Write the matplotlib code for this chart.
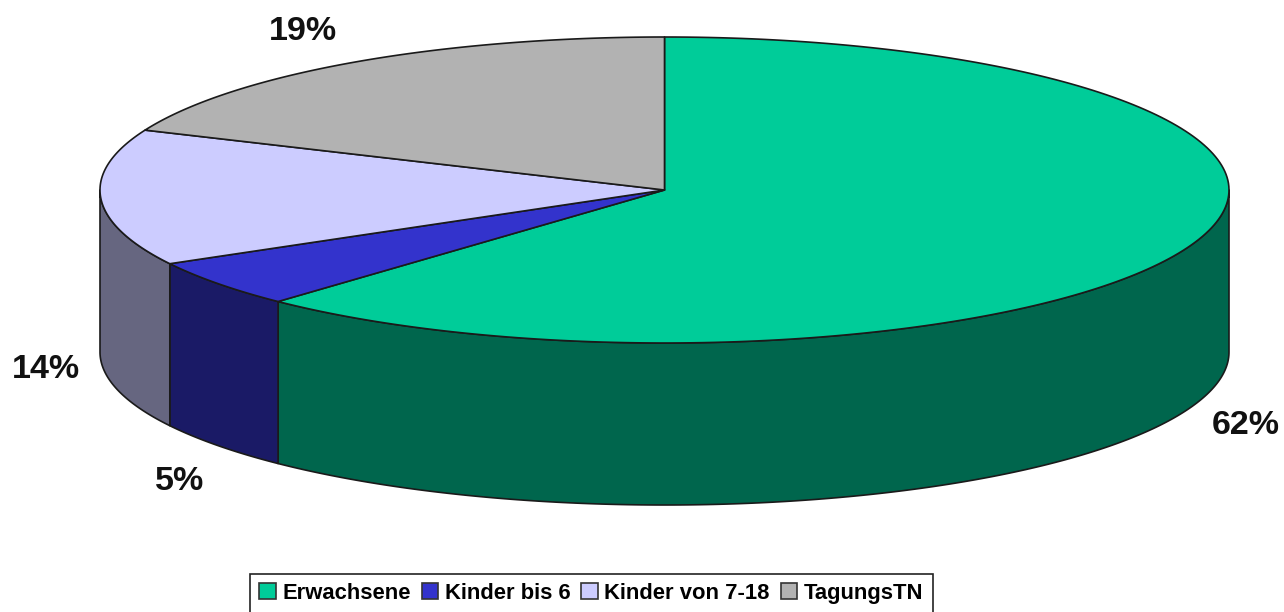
from matplotlib import pyplot as plt
from matplotlib.patches import Patch, Polygon
import numpy as np

# shares, labels are rounded from these
categories = ['Erwachsene', 'Kinder bis 6', 'Kinder von 7-18', 'TagungsTN']
values = [62.0, 5.0, 14.4, 18.6]
top_colors = ['#00CC99', '#3333CC', '#CCCCFF', '#B2B2B2']
side_colors = ['#00664D', '#1A1A66', '#666680', '#595959']
label_pos = [(1246, 425), (180, 481), (46, 369), (303, 31)]

# pie geometry in pixels
cx, cy = 664.5, 190
rx, ry = 564.5, 153
depth = 162
edge = '#1a1a1a'
font = 'Liberation Sans'

fig = plt.figure(figsize=(12.84, 6.12), dpi=100)
ax = fig.add_axes([0, 0, 1, 1])
ax.set_xlim(0, 1284)
ax.set_ylim(612, 0)
ax.axis('off')


def rim(a0, a1, drop=0):
    # angles run clockwise from the top of the ellipse
    t = np.radians(np.linspace(a0, a1, 200))
    return np.column_stack([cx + rx * np.sin(t), cy - ry * np.cos(t) + drop])


angles = np.concatenate([[0], np.cumsum(values) / np.sum(values) * 360])

# the side walls, only the part of each slice that faces the viewer
for i in range(len(values)):
    a0 = max(angles[i], 90)
    a1 = min(angles[i + 1], 270)
    if a1 > a0:
        wall = np.vstack([rim(a0, a1), rim(a0, a1, depth)[::-1]])
        ax.add_patch(Polygon(wall, closed=True, facecolor=side_colors[i],
                             edgecolor=edge, linewidth=1.2, joinstyle='round'))

# the top faces
for i in range(len(values)):
    face = np.vstack([[[cx, cy]], rim(angles[i], angles[i + 1])])
    ax.add_patch(Polygon(face, closed=True, facecolor=top_colors[i],
                         edgecolor=edge, linewidth=1.2, joinstyle='round'))

# percent labels
for value, (x, y) in zip(values, label_pos):
    ax.text(x, y, f'{value:.0f}%', ha='center', va='center', fontsize=24.5,
            fontweight='bold', family=font, color='#111111')

handles = [Patch(facecolor=c, edgecolor='#333333', linewidth=1.2) for c in top_colors]
leg = ax.legend(handles, categories, ncol=4, loc='lower left',
                bbox_to_anchor=(250 / 1284, -0.002), frameon=True, fancybox=False,
                edgecolor='#222222', framealpha=1, columnspacing=0.5,
                handlelength=0.75, handleheight=0.75, handletextpad=0.3,
                borderpad=0.42, borderaxespad=0,
                prop={'family': font, 'weight': 'bold', 'size': 15.8})
leg.get_frame().set_linewidth(1.2)

plt.savefig('out.png', dpi=100)
